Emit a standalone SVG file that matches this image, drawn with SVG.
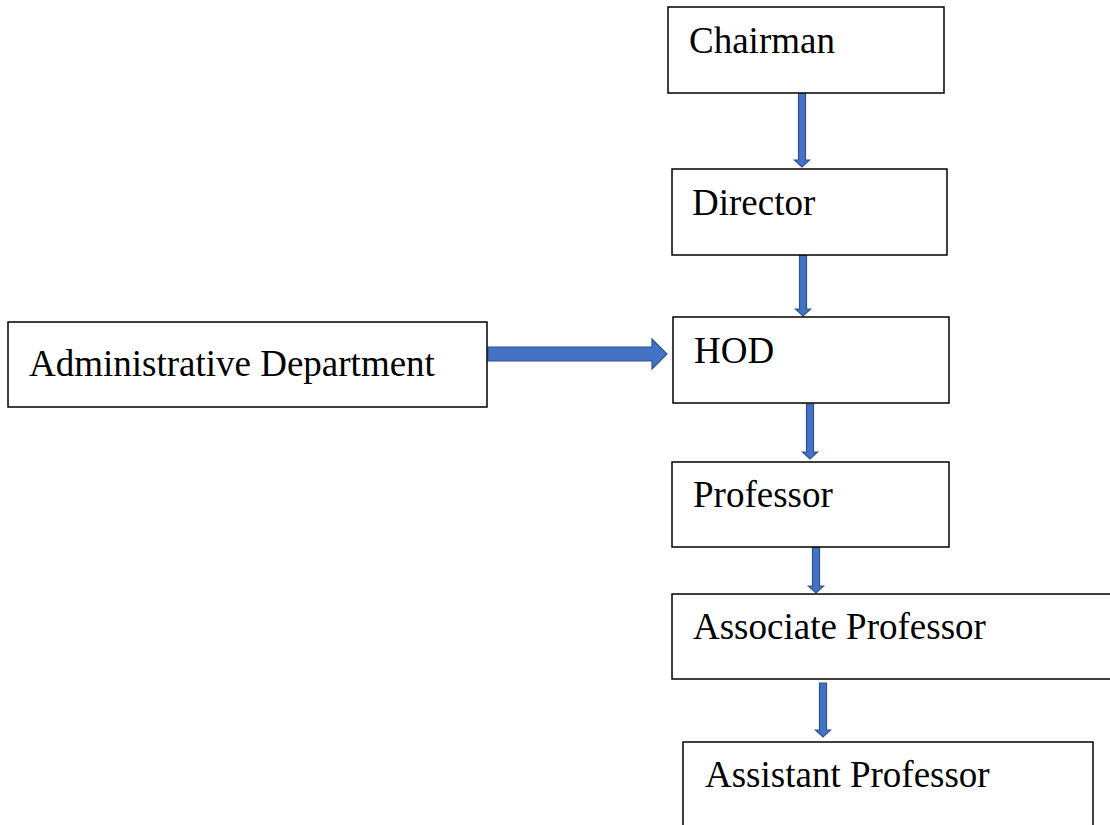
<svg xmlns="http://www.w3.org/2000/svg" width="1110" height="825" viewBox="0 0 1110 825">
<style>
.box{fill:#fff;stroke:#000;stroke-width:1.5}
.lbl{font-family:"Liberation Serif","Times New Roman",serif;font-size:37px;fill:#000}
.arr{fill:#4472C4;stroke:#2F528F;stroke-width:1.2}
</style>
<rect width="1110" height="825" fill="#fff"/>
<g id="connectors">
<polygon class="arr" points="798.5,88 805.5,88 805.5,160 809.5,160 802,167 794.5,160 798.5,160"/>
<polygon class="arr" points="799.5,255 806.5,255 806.5,309 810.5,309 803,316 795.5,309 799.5,309"/>
<polygon class="arr" points="806.5,404 813.5,404 813.5,452 817.5,452 810,459 802.5,452 806.5,452"/>
<polygon class="arr" points="812.5,547 819.5,547 819.5,586 823.5,586 816,593 808.5,586 812.5,586"/>
<polygon class="arr" points="819.5,683 826.5,683 826.5,730 830.5,730 823,737 815.5,730 819.5,730"/>
<polygon class="arr" points="488,347 652,347 652,339 667,354 652,369 652,361 488,361"/>
</g>
<g id="chairman"><rect class="box" x="668" y="7" width="276" height="86"/><text class="lbl" x="689" y="53">Chairman</text></g>
<g id="director"><rect class="box" x="672" y="169" width="275" height="86"/><text class="lbl" x="692" y="215">Director</text></g>
<g id="hod"><rect class="box" x="673" y="317" width="276" height="86"/><text class="lbl" x="694" y="363">HOD</text></g>
<g id="admin"><rect class="box" x="8" y="322" width="479" height="85"/><text class="lbl" x="29" y="376">Administrative Department</text></g>
<g id="professor"><rect class="box" x="672" y="462" width="277" height="85"/><text class="lbl" x="693" y="507">Professor</text></g>
<g id="associate"><rect class="box" x="672" y="594" width="450" height="85"/><text class="lbl" x="693" y="639">Associate Professor</text></g>
<g id="assistant"><rect class="box" x="683" y="742" width="410" height="100"/><text class="lbl" x="705" y="787">Assistant Professor</text></g>
</svg>
